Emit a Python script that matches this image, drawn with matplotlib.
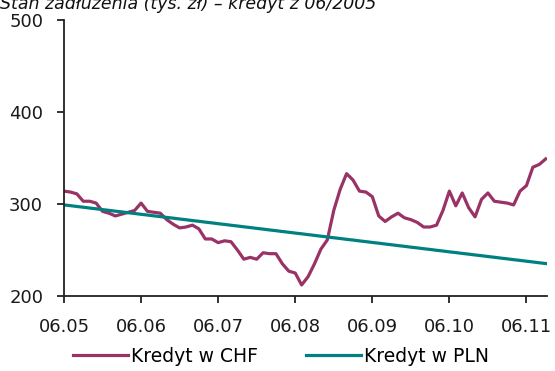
import matplotlib
matplotlib.use("Agg")
import matplotlib.pyplot as plt

title = "Stan zadłużenia (tys. zł) – kredyt z 06/2005"
tick_labels = ["06.05", "06.06", "06.07", "06.08", "06.09", "06.10", "06.11"]
series_names = ["Kredyt w CHF", "Kredyt w PLN"]

# monthly balances from 06.2005 to 09.2011
kredyt_chf = [314, 313, 311, 303, 303, 301, 292, 290, 287, 289, 291, 293,
              301, 292, 291, 290, 283, 278, 274, 275, 277, 273, 262, 262,
              258, 260, 259, 250, 240, 242, 240, 247, 246, 246, 235, 227,
              225, 212, 221, 235, 251, 261, 293, 316, 333, 326, 314, 313,
              308, 287, 281, 286, 290, 285, 283, 280, 275, 275, 277, 293,
              314, 298, 312, 296, 286, 305, 312, 303, 302, 301, 299, 314,
              320, 340, 343, 349]
kredyt_pln = [299.0, 298.2, 297.3, 296.5, 295.6, 294.8, 293.9, 293.1, 292.2, 291.4,
              290.5, 289.7, 288.8, 288.0, 287.1, 286.3, 285.4, 284.6, 283.7, 282.9,
              282.0, 281.2, 280.3, 279.5, 278.6, 277.8, 276.9, 276.1, 275.2, 274.4,
              273.5, 272.7, 271.8, 271.0, 270.1, 269.3, 268.4, 267.6, 266.7, 265.9,
              265.0, 264.2, 263.3, 262.5, 261.6, 260.8, 259.9, 259.1, 258.2, 257.4,
              256.5, 255.7, 254.8, 254.0, 253.1, 252.3, 251.4, 250.6, 249.7, 248.9,
              248.0, 247.2, 246.3, 245.5, 244.6, 243.8, 242.9, 242.1, 241.2, 240.4,
              239.5, 238.7, 237.8, 237.0, 236.1, 235.3]
months = list(range(len(kredyt_chf)))
tick_pos = [0, 12, 24, 36, 48, 60, 72]
y_ticks = [200, 300, 400, 500]

plt.rcParams['font.family'] = ['DejaVu Sans']

fig = plt.figure(figsize=(5.55, 3.71), dpi=100)
ax = fig.add_axes([64/555, 75/371, (547-64)/555, (296-20)/371])

c_chf = "#993366"
c_pln = "#008080"
l1, = ax.plot(months, kredyt_chf, color=c_chf, lw=2.3, label=series_names[0], solid_joinstyle='round')
l2, = ax.plot(months, kredyt_pln, color=c_pln, lw=2.3, label=series_names[1])

ax.set_xlim(0, 75.2)
ax.set_ylim(200, 500)
ax.set_xticks(tick_pos)
ax.set_xticklabels(tick_labels)
ax.set_yticks(y_ticks)
for s in ["top", "right"]:
    ax.spines[s].set_visible(False)
for s in ["left", "bottom"]:
    ax.spines[s].set_color("#222222")
    ax.spines[s].set_linewidth(1.3)
ax.tick_params(axis='both', direction='out', length=5, width=1.3, color="#222222",
               labelsize=13, labelcolor="#1a1a1a")
ax.tick_params(axis='x', pad=11)
ax.tick_params(axis='y', pad=10)

fig.legend(handles=[l1, l2], loc='center', bbox_to_anchor=(281/555, 1-356/371),
           ncol=2, frameon=False, fontsize=13.5, handlelength=2.9,
           handletextpad=0.15, columnspacing=2.6, borderpad=0)

fig.text(0.0, 1-9/371, title, fontsize=12.5, fontstyle='italic', va='baseline',
         ha='left', color="#111111")

fig.savefig("out.png", dpi=100)
